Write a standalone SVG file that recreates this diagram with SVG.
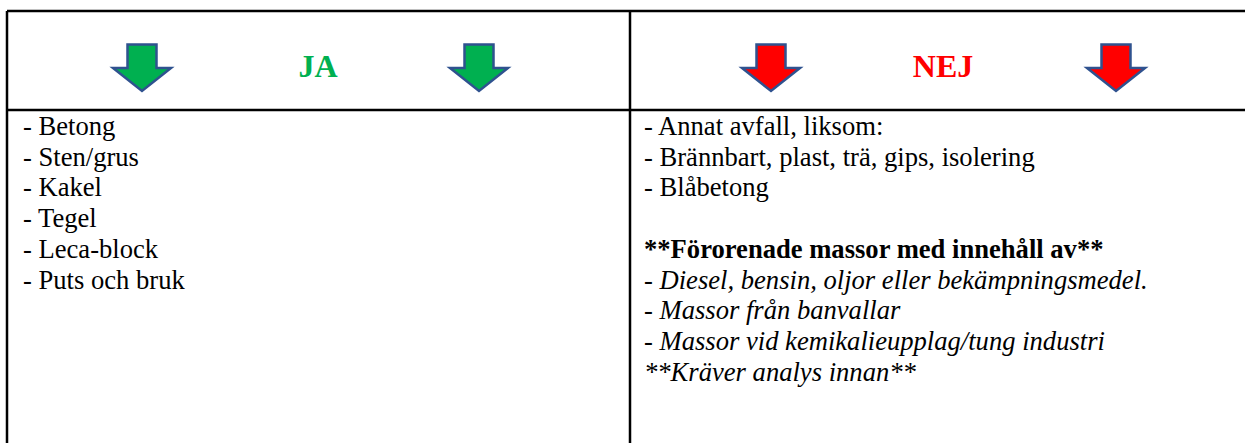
<svg xmlns="http://www.w3.org/2000/svg" width="1245" height="443" viewBox="0 0 1245 443">
  <style>
    .grid { stroke: #000; stroke-width: 2.5; fill: none; }
    .body { font-family: "Liberation Serif", "Times New Roman", serif; font-size: 26.6px; fill: #000; }
    .hdr { font-family: "Liberation Serif", "Times New Roman", serif; font-size: 32px; font-weight: bold; }
    .ga { fill: #00B050; stroke: #2F528F; stroke-width: 2.5; stroke-linejoin: miter; }
    .ra { fill: #FF0000; stroke: #2F528F; stroke-width: 2.5; stroke-linejoin: miter; }
    .b { font-weight: bold; }
    .i { font-style: italic; }
  </style>
  <defs>
    <polygon id="arrow" points="-14.5,-46.5 14.5,-46.5 14.5,-23 29,-23 0,0 -29,-23 -14.5,-23"/>
  </defs>
  <rect width="1245" height="443" fill="#fff"/>
  <g id="grid">
    <line class="grid" x1="7" y1="11" x2="1245" y2="11"/>
    <line class="grid" x1="7" y1="110" x2="1245" y2="110"/>
    <line class="grid" x1="7" y1="11" x2="7" y2="443"/>
    <line class="grid" x1="630" y1="11" x2="630" y2="443"/>
  </g>
  <g id="connectors"></g>
  <g id="header-ja">
    <use href="#arrow" class="ga" x="142" y="91"/>
    <text class="hdr" x="318" y="77" text-anchor="middle" fill="#00B050">JA</text>
    <use href="#arrow" class="ga" x="479" y="91"/>
  </g>
  <g id="header-nej">
    <use href="#arrow" class="ra" x="771" y="91"/>
    <text class="hdr" x="943" y="77" text-anchor="middle" fill="#FF0000">NEJ</text>
    <use href="#arrow" class="ra" x="1116" y="91"/>
  </g>
  <g id="list-ja">
    <text class="body" x="23" y="135">- Betong</text>
    <text class="body" x="23" y="165.7">- Sten/grus</text>
    <text class="body" x="23" y="196.4">- Kakel</text>
    <text class="body" x="23" y="227.1">- Tegel</text>
    <text class="body" x="23" y="257.8">- Leca-block</text>
    <text class="body" x="23" y="288.5">- Puts och bruk</text>
  </g>
  <g id="list-nej">
    <text class="body" x="644" y="135">- Annat avfall, liksom:</text>
    <text class="body" x="644" y="165.7">- Brännbart, plast, trä, gips, isolering</text>
    <text class="body" x="644" y="196.4">- Blåbetong</text>
    <text class="body b" x="644" y="257.8">**Förorenade massor med innehåll av**</text>
    <text class="body i" x="644" y="288.5">- Diesel, bensin, oljor eller bekämpningsmedel.</text>
    <text class="body i" x="644" y="319.2">- Massor från banvallar</text>
    <text class="body i" x="644" y="349.9">- Massor vid kemikalieupplag/tung industri</text>
    <text class="body i" x="644" y="380.6">**Kräver analys innan**</text>
  </g>
</svg>
